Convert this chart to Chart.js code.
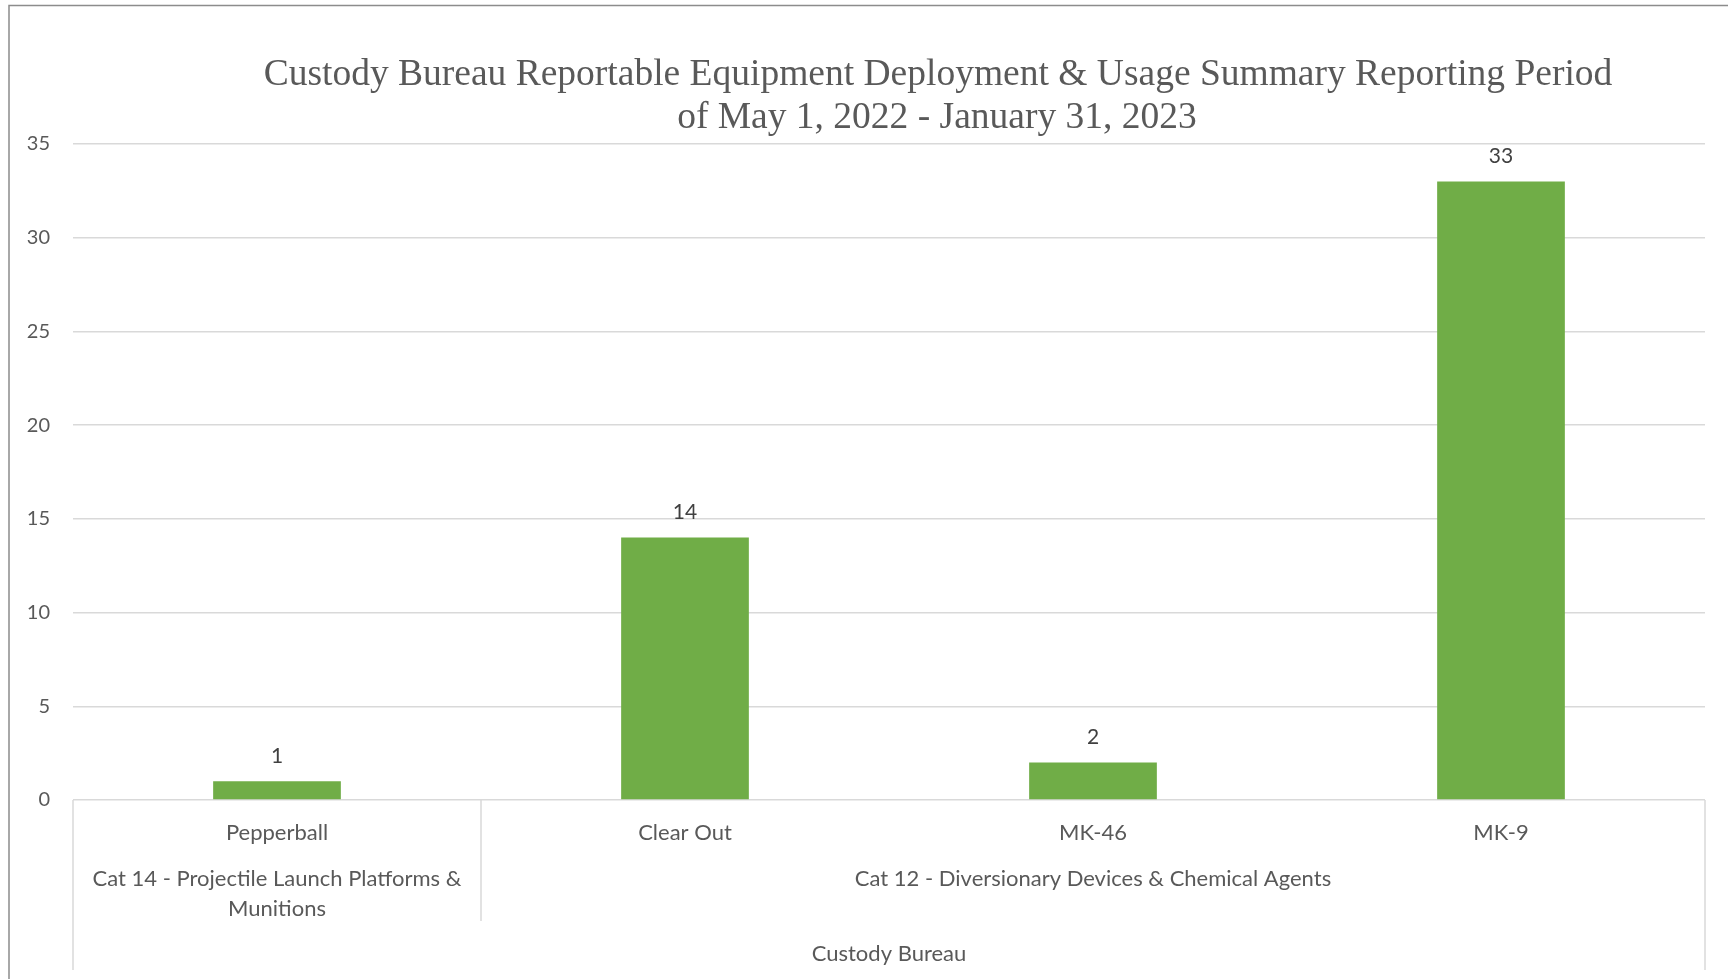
<!DOCTYPE html>
<html>
<head>
<meta charset="utf-8">
<script src="https://cdn.jsdelivr.net/npm/chart.js@4.4.0/dist/chart.umd.min.js"></script>
<style>
  html, body { margin: 0; padding: 0; background: #ffffff; }
  canvas { display: block; }
</style>
</head>
<body>
<canvas id="c" width="1728" height="979"></canvas>
<script>
// ---- data ----
const titleLines = ["Custody Bureau Reportable Equipment Deployment & Usage Summary Reporting Period", "of May 1, 2022 - January 31, 2023"];
const categories = ["Pepperball", "Clear Out", "MK-46", "MK-9"];
const values = [1, 14, 2, 33];
const groupLabels = [["Cat 14 - Projectile Launch Platforms &", "Munitions"], ["Cat 12 - Diversionary Devices & Chemical Agents"]];
const groupStart = [0, 1];
const groupEnd = [0, 3];
const topGroupLabel = "Custody Bureau";
const yMin = 0, yMax = 35, yStep = 5;

const SANS = "Lato, 'Open Sans', sans-serif";
const GRID = "#d9d9d9";
const TEXT = "#595959";

const decorPlugin = {
  id: "decor",
  beforeDraw(chart) {
    const ctx = chart.ctx;
    ctx.save();
    ctx.fillStyle = "#ffffff";
    ctx.fillRect(0, 0, chart.width, chart.height);
    ctx.strokeStyle = "#8c8c8c";
    ctx.lineWidth = 1.5;
    ctx.strokeRect(9, 5.5, chart.width + 20, chart.height + 20);
    ctx.restore();
  },
  afterDraw(chart) {
    const ctx = chart.ctx;
    const xs = chart.scales.x;
    const area = chart.chartArea;
    ctx.save();
    // title
    ctx.fillStyle = TEXT;
    ctx.font = "37.5px 'Liberation Serif', 'Times New Roman', serif";
    ctx.textAlign = "center";
    ctx.textBaseline = "middle";
    ctx.fillText(titleLines[0], 938, 75);
    ctx.fillText(titleLines[1], 937, 118);

    // data labels
    const meta = chart.getDatasetMeta(0);
    ctx.fillStyle = "#404040";
    ctx.font = "21px " + SANS;
    meta.data.forEach((bar, i) => {
      ctx.fillText(String(values[i]), bar.x, bar.y - 25);
    });

    // multi-level axis separators
    const half = (xs.getPixelForValue(1) - xs.getPixelForValue(0)) / 2;
    ctx.strokeStyle = GRID;
    ctx.lineWidth = 1.5;
    const bottom = area.bottom;
    const edges = [area.left, area.right];
    edges.forEach(x => {
      ctx.beginPath(); ctx.moveTo(x, bottom); ctx.lineTo(x, 970); ctx.stroke();
    });
    for (let g = 0; g < groupStart.length - 1; g++) {
      const x = xs.getPixelForValue(groupEnd[g]) + half;
      ctx.beginPath(); ctx.moveTo(x, bottom); ctx.lineTo(x, 921); ctx.stroke();
    }
    // group labels
    ctx.fillStyle = TEXT;
    ctx.font = "22px " + SANS;
    groupLabels.forEach((lines, g) => {
      const x0 = xs.getPixelForValue(groupStart[g]) - half;
      const x1 = xs.getPixelForValue(groupEnd[g]) + half;
      const cx = (x0 + x1) / 2;
      lines.forEach((t, k) => ctx.fillText(t, cx, 879 + k * 30));
    });
    ctx.fillText(topGroupLabel, (area.left + area.right) / 2, 954);
    ctx.restore();
  }
};

new Chart(document.getElementById("c"), {
  type: "bar",
  data: {
    labels: categories,
    datasets: [{
      data: values,
      backgroundColor: "#70ad47",
      borderWidth: 0,
      barPercentage: 0.313,
      categoryPercentage: 1.0
    }]
  },
  options: {
    responsive: false,
    devicePixelRatio: 1,
    animation: false,
    layout: { padding: { left: 9, right: 23, top: 144, bottom: 0 } },
    plugins: { legend: { display: false }, title: { display: false }, tooltip: { enabled: false } },
    scales: {
      x: {
        grid: { display: false, drawTicks: false },
        border: { display: false },
        ticks: { color: TEXT, font: { family: SANS, size: 22 }, padding: 20, maxRotation: 0 },
        afterFit(s) { s.height = 179; }
      },
      y: {
        min: yMin, max: yMax,
        grid: { color: GRID, lineWidth: 1.5, drawTicks: false },
        border: { display: false },
        ticks: { stepSize: yStep, color: TEXT, font: { family: SANS, size: 20 }, padding: 23 },
        afterFit(s) { s.width = 64; }
      }
    }
  },
  plugins: [decorPlugin]
});
</script>
</body>
</html>
